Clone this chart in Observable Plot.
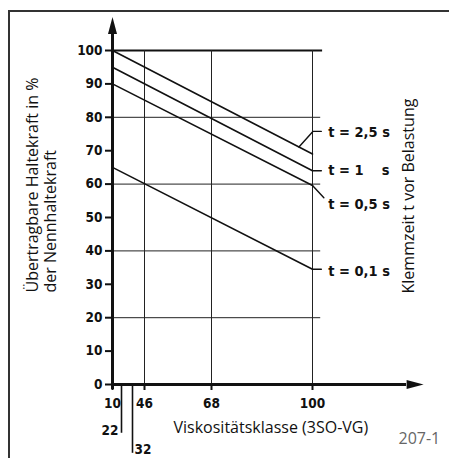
<!DOCTYPE html>
<html>
<head>
<meta charset="utf-8">
<script src="https://cdn.jsdelivr.net/npm/d3@7"></script>
<script src="https://cdn.jsdelivr.net/npm/@observablehq/plot@0.6"></script>
<style>
html, body { margin: 0; padding: 0; background: #fff; overflow: hidden; }
#wrap { position: relative; width: 449px; height: 458px; }
#frame { position: absolute; left: 8px; top: 10px; width: 470px; height: 470px;
  border-left: 2px solid #333; border-top: 2px solid #333; pointer-events: none; }
svg text { white-space: pre; }
g[aria-label="y-axis tick"] path, g[aria-label="x-axis tick"] path,
g[aria-label="y-axis"] .tick line, g[aria-label="x-axis"] .tick line { stroke-width: 2px; }
</style>
</head>
<body>
<div id="wrap"><div id="frame"></div></div>
<script>
// ---- data ----
const viscosityTicks = [10, 46, 68, 100];
const viscositySubTicks = [22, 32];
const subTickDepth = [-14.6, -20.6];
const percentTicks = [0, 10, 20, 30, 40, 50, 60, 70, 80, 90, 100];
const gridLevels = [20, 40, 60, 80];
const gridTop = [100];
const gridColumns = [46, 68, 100];
const viscosityEnds = [10, 100];
const clampTimes = ["2,5", "1", "0,5", "0,1"];
const clampLabels = ["t = 2,5 s", "t = 1    s", "t = 0,5 s", "t = 0,1 s"];
const forceAt10 = [100, 95, 90, 65];
const forceAt100 = [69, 64, 59.6, 34.5];
const leaderX = [[95.7, 100.2, 102.8], [100, 102.8], [100, 103.6], [100, 102.8]];
const leaderY = [[71.1, 75.8, 75.8], [64, 64], [59.6, 55.9], [34.5, 34.5]];
const labelX = 105;
const labelY = [75.6, 64, 53.9, 33.8];
const axisTips = [{v: 10, f: 110, r: 0}, {v: 135.2, f: 0, r: 90}];
const axisExtent = {v: 129.8, f: 105};
const xTitle = "Viskositätsklasse (3SO-VG)";
const yTitle = "Übertragbare Haltekraft in %\nder Nennhaltekraft";
const rightTitle = "Klemmzeit t vor Belastung";
const figNo = "207-1";

// ---- tables ----
const lineData = clampTimes.flatMap((t, i) =>
  viscosityEnds.map((v, j) => ({t, v, f: j === 0 ? forceAt10[i] : forceAt100[i]})));
const leaderData = clampTimes.flatMap((t, i) =>
  leaderX[i].map((v, j) => ({t, v, f: leaderY[i][j]})));
const labelData = clampLabels.map((label, i) => ({label, v: labelX, f: labelY[i]}));
const subData = viscositySubTicks.map((v, i) => ({v, depth: subTickDepth[i]}));

const arrowHead = {
  draw(ctx) {
    ctx.moveTo(0, 0);
    ctx.lineTo(4.5, 17);
    ctx.lineTo(-4.5, 17);
    ctx.closePath();
  }
};

const titleFont = {fontFamily: "Open Sans", fontWeight: "normal", fontSize: 16, fill: "#111"};
const numFont = {fontFamily: "DejaVu Sans Condensed", fontWeight: "bold", fontSize: 13.5};

const chart = Plot.plot({
  width: 449,
  height: 458,
  marginTop: 50,
  marginBottom: 74,
  marginLeft: 112,
  marginRight: 37,
  style: {fontFamily: "DejaVu Sans Condensed", fontWeight: "bold", fontSize: "13.5px", background: "transparent", color: "#111"},
  x: {type: "linear", domain: [10, 22, 32, 46, 68, 100], range: [112, 121, 132, 144, 211, 312],
      ticks: viscosityTicks, tickSize: 6, tickPadding: 8, label: null},
  y: {domain: [0, 100], ticks: percentTicks, tickSize: 7, tickPadding: 3, label: null},
  marks: [
    Plot.ruleY(gridLevels, {x1: 10, x2: 102.6, stroke: "#222", strokeWidth: 1}),
    Plot.ruleY(gridTop, {x1: 10, x2: 103.2, stroke: "#111", strokeWidth: 2.2}),
    Plot.ruleX(gridColumns, {y1: 0, y2: 100, stroke: "#222", strokeWidth: 1}),
    Plot.ruleX(subData, {x: "v", y1: 0, y2: "depth", stroke: "#111", strokeWidth: 1.6}),
    Plot.text(subData.slice(0, 1), {x: "v", y: "depth", text: (d) => String(d.v), textAnchor: "end", dx: -3, dy: -3, ...numFont}),
    Plot.text(subData.slice(1), {x: "v", y: "depth", text: (d) => String(d.v), textAnchor: "start", dx: 2, dy: -4, ...numFont}),
    Plot.ruleX([10], {y1: -1.5, y2: axisExtent.f, stroke: "#111", strokeWidth: 3}),
    Plot.ruleY([0], {x1: 10, x2: axisExtent.v, stroke: "#111", strokeWidth: 3}),
    Plot.dot(axisTips, {x: "v", y: "f", rotate: "r", symbol: arrowHead, fill: "#111", stroke: null, r: 5}),
    Plot.line(lineData, {x: "v", y: "f", z: "t", stroke: "#111", strokeWidth: 1.6}),
    Plot.line(leaderData, {x: "v", y: "f", z: "t", stroke: "#111", strokeWidth: 1.4}),
    Plot.text(labelData, {x: "v", y: "f", text: "label", textAnchor: "start", fontFamily: "DejaVu Sans Condensed", fontWeight: "bold", fontSize: 14.5}),
    Plot.text([yTitle], {frameAnchor: "bottom-left", text: (d) => d, rotate: -90, textAnchor: "start", lineHeight: 1.1, dx: -57, dy: -92, ...titleFont}),
    Plot.text([rightTitle], {frameAnchor: "bottom-left", text: (d) => d, rotate: -90, textAnchor: "start", dx: 301, dy: -91, ...titleFont}),
    Plot.text([xTitle], {frameAnchor: "bottom-left", text: (d) => d, textAnchor: "start", dx: 61, dy: 48, ...titleFont}),
    Plot.text([figNo], {frameAnchor: "bottom-left", text: (d) => d, textAnchor: "start", dx: 286, dy: 59, fontFamily: "Open Sans", fontWeight: "normal", fontSize: 16, fill: "#666"})
  ]
});
document.getElementById("wrap").prepend(chart);
</script>
</body>
</html>
